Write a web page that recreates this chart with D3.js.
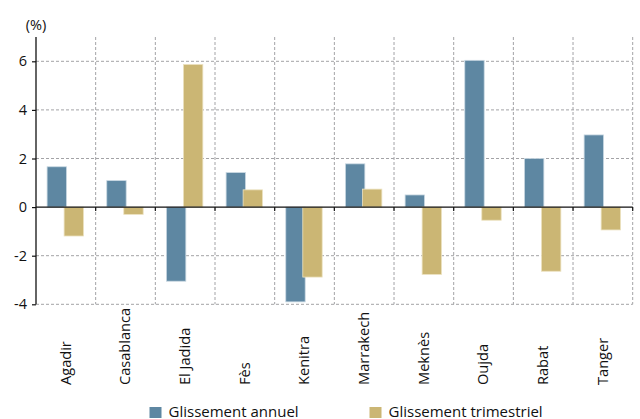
<!DOCTYPE html>
<html><head><meta charset="utf-8">
<script src="https://cdn.jsdelivr.net/npm/d3@7"></script>
<style>
body{margin:0;background:#fff;}
text{font-family:"Open Sans",sans-serif;fill:#111;}
</style></head>
<body>
<svg id="c" width="640" height="419"></svg>
<script>
const categories = ["Agadir","Casablanca","El Jadida","Fès","Kenitra","Marrakech","Meknès","Oujda","Rabat","Tanger"];
const seriesNames = ["Glissement annuel","Glissement trimestriel"];
const annuel = [1.66, 1.09, -3.05, 1.42, -3.9, 1.78, 0.5, 6.04, 2.0, 2.97];
const trimestriel = [-1.19, -0.3, 5.87, 0.71, -2.88, 0.74, -2.77, -0.54, -2.64, -0.94];
const yTicks = [-4,-2,0,2,4,6];
const colors = ["#5e87a2","#cbb674"];

const svg = d3.select("#c");
const pL = 36, pR = 632.7, pT = 37, pB = 304.3;
const x = d3.scaleBand().domain(categories).range([pL, pR]).padding(0);
const bw = x.bandwidth();
const x1 = d3.scaleBand().domain(seriesNames).range([bw*0.206, bw*0.776]).padding(0);
const y = d3.scaleLinear().domain([-4, 7]).range([pB, pT]);

const grid = "#a3a3a6";
// horizontal grid
svg.append("g").selectAll("line").data(yTicks.filter(d=>d!==0)).join("line")
  .attr("x1", pL).attr("x2", pR).attr("y1", d=>y(d)).attr("y2", d=>y(d))
  .attr("stroke", grid).attr("stroke-width",1).attr("stroke-dasharray","3,2");
// vertical grid
const bounds = categories.map(c=>x(c)+bw);
svg.append("g").selectAll("line").data(bounds).join("line")
  .attr("x1", d=>d).attr("x2", d=>d).attr("y1", pT).attr("y2", pB)
  .attr("stroke", grid).attr("stroke-width",1).attr("stroke-dasharray","3,2");

// bars
const rows = categories.map((c,i)=>({c, vals:[annuel[i], trimestriel[i]]}));
const g = svg.append("g");
rows.forEach(r=>{
  r.vals.forEach((v,j)=>{
    const s = seriesNames[j];
    g.append("rect")
      .attr("x", x(r.c)+x1(s)-1.2)
      .attr("width", x1.bandwidth()+2.4)
      .attr("y", y(Math.max(0,v)))
      .attr("height", Math.abs(y(v)-y(0)))
      .attr("fill", colors[j])
      .attr("stroke", j===0 ? "#c9d8e2" : "#ece2c0")
      .attr("stroke-width", 0.8);
  });
});

// y axis
const yAxis = d3.axisLeft(y).tickValues(yTicks).tickSize(4).tickPadding(5).tickFormat(d=>String(d));
const ya = svg.append("g").attr("transform",`translate(${pL},0)`).call(yAxis);
ya.select(".domain").remove();
ya.selectAll("line").attr("stroke","#111").attr("stroke-width",1.2);
ya.selectAll("text").attr("font-size",14.5).attr("font-family","Open Sans, sans-serif").attr("fill","#111");
svg.append("line").attr("x1",pL).attr("x2",pL).attr("y1",pT).attr("y2",pB).attr("stroke","#111").attr("stroke-width",1.3);

// zero line with ticks
svg.append("line").attr("x1",pL).attr("x2",pR).attr("y1",y(0)).attr("y2",y(0)).attr("stroke","#111").attr("stroke-width",1.3);
svg.append("g").selectAll("line").data(bounds).join("line")
  .attr("x1",d=>d).attr("x2",d=>d).attr("y1",y(0)).attr("y2",y(0)+4).attr("stroke","#111").attr("stroke-width",1.2);

// unit label
svg.append("text").attr("x", pL).attr("y", 30).attr("text-anchor","middle").attr("font-size",14.5).text("(%)");

// category labels
svg.append("g").selectAll("text").data(categories).join("text")
  .attr("transform", d=>`translate(${x(d)+bw/2},385) rotate(-90)`)
  .attr("dy","0.32em").attr("text-anchor","start").attr("font-size",14.6)
  .text(d=>d);

// legend
const legX = [149.5, 369.5];
const leg = svg.append("g");
seriesNames.forEach((s,i)=>{
  leg.append("rect").attr("x",legX[i]).attr("y",407).attr("width",12).attr("height",11).attr("fill",colors[i]);
  leg.append("text").attr("x",legX[i]+19).attr("y",416.5).attr("font-size",15).text(s);
});
</script>
</body></html>
